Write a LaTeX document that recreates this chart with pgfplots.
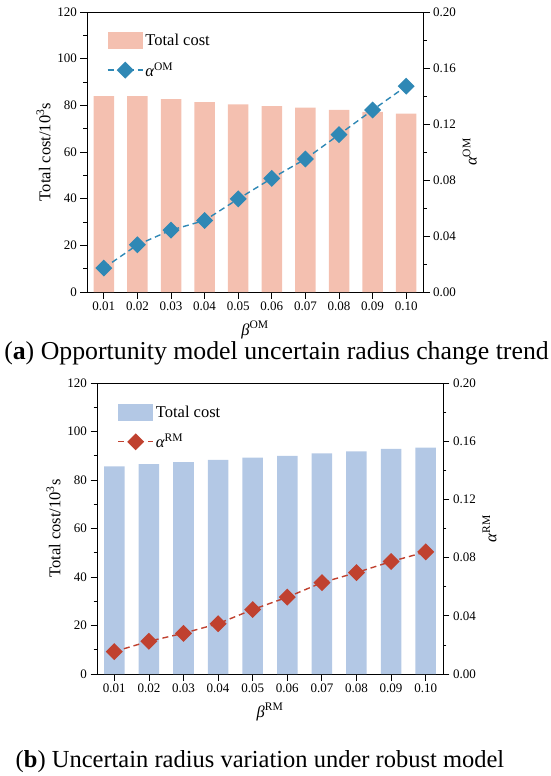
\documentclass[border=0pt]{standalone}
\usepackage{pgfplots}
\pgfplotsset{compat=1.18}
\usepackage{fontspec}
\setmainfont{Liberation Serif}
\definecolor{salmon}{HTML}{F4C0B0}
\definecolor{lblue}{HTML}{B3C8E5}
\definecolor{mblue}{HTML}{2F88B5}
\definecolor{mred}{HTML}{C0412F}
\pgfplotsset{
  common/.style={
    scale only axis,
    anchor=south west,
    xmin=-0.5, xmax=9.5,
    tick align=outside,
    major tick length=6.5pt,
    minor tick length=3.5pt,
    every tick/.style={black, line width=0.8pt},
    axis line style={line width=0.9pt},
    /pgf/number format/assume math mode=true,
    tick label style={font=\fontsize{13}{15}\selectfont},
    label style={font=\fontsize{16.5}{19}\selectfont},
    xlabel style={yshift=-3.5pt},
  },
  barleg/.style={legend image code/.code={\fill[##1] (0pt,-8.5pt) rectangle (35pt,8.5pt);}},
  lineleg/.style={legend image code/.code={\draw[##1, mark repeat=2, mark phase=2] plot coordinates {(0pt,0pt) (17.5pt,0pt) (35pt,0pt)};}},
}
\begin{document}
\begin{tikzpicture}
\useasboundingbox (0,0) rectangle (550pt,-776pt);
% ---------------- panel (a) ----------------
\begin{axis}[common,
  at={(87pt,-292pt)}, width=336pt, height=280pt,
  ymin=0, ymax=120, ytick={0,20,...,120}, minor y tick num=1,
  xtick={0,...,9}, xticklabels={0.01,0.02,0.03,0.04,0.05,0.06,0.07,0.08,0.09,0.10},
  xtick pos=bottom, ytick pos=left,
  ylabel={Total cost/10\textsuperscript{3}s},
  xlabel={\itshape β\upshape\textsuperscript{OM}},
]
\addplot[ybar, bar width=20.5pt, fill=salmon, draw=none] coordinates {
(0,84.0) (1,83.9) (2,82.7) (3,81.4) (4,80.4) (5,79.7) (6,79.0) (7,78.1) (8,77.2) (9,76.4)};
\end{axis}
\begin{axis}[common,
  at={(87pt,-292pt)}, width=336pt, height=280pt,
  axis x line=none, axis y line*=right,
  ymin=0, ymax=0.2, ytick={0,0.04,...,0.2}, minor y tick num=1,
  yticklabel style={/pgf/number format/fixed, /pgf/number format/fixed zerofill, /pgf/number format/precision=2},
  ylabel={\itshape α\upshape\textsuperscript{OM}},
  legend style={draw=none, fill=none, at={(0.05,0.935)}, anchor=north west,
    font=\fontsize{16.5}{19}\selectfont, row sep=11pt, legend cell align=left},
]
\addlegendimage{barleg, fill=salmon, draw=none}
\addlegendentry{Total cost}
\addplot[lineleg, mblue, line width=1.4pt, dash pattern=on 6pt off 4pt, mark=square*, mark size=5.3pt,
  mark options={solid, rotate=45, fill=mblue, draw=mblue}] coordinates {
(0,0.0171) (1,0.0337) (2,0.0442) (3,0.0511) (4,0.0665) (5,0.0812) (6,0.0950) (7,0.1124) (8,0.1300) (9,0.1470)};
\addlegendentry{\itshape α\upshape\textsuperscript{OM}}
\end{axis}
\node[anchor=base] at (276.5pt,-359pt) {\fontsize{25.8}{30}\selectfont (\textbf{a}) Opportunity model uncertain radius change trend};
% ---------------- panel (b) ----------------
\begin{axis}[common,
  at={(97pt,-674pt)}, width=346pt, height=291pt,
  ymin=0, ymax=120, ytick={0,20,...,120}, minor y tick num=1,
  xtick={0,...,9}, xticklabels={0.01,0.02,0.03,0.04,0.05,0.06,0.07,0.08,0.09,0.10},
  xtick pos=bottom, ytick pos=left,
  ylabel={Total cost/10\textsuperscript{3}s},
  xlabel={\itshape β\upshape\textsuperscript{RM}},
]
\addplot[ybar, bar width=20.5pt, fill=lblue, draw=none] coordinates {
(0,85.6) (1,86.6) (2,87.4) (3,88.3) (4,89.2) (5,90.0) (6,91.0) (7,91.8) (8,92.8) (9,93.4)};
\end{axis}
\begin{axis}[common,
  at={(97pt,-674pt)}, width=346pt, height=291pt,
  axis x line=none, axis y line*=right,
  ymin=0, ymax=0.2, ytick={0,0.04,...,0.2}, minor y tick num=1,
  yticklabel style={/pgf/number format/fixed, /pgf/number format/fixed zerofill, /pgf/number format/precision=2},
  ylabel={\itshape α\upshape\textsuperscript{RM}},
  legend style={draw=none, fill=none, at={(0.05,0.935)}, anchor=north west,
    font=\fontsize{16.5}{19}\selectfont, row sep=11pt, legend cell align=left},
]
\addlegendimage{barleg, fill=lblue, draw=none}
\addlegendentry{Total cost}
\addplot[lineleg, mred, line width=1.4pt, dash pattern=on 6pt off 4pt, mark=square*, mark size=5.3pt,
  mark options={solid, rotate=45, fill=mred, draw=mred}] coordinates {
(0,0.0154) (1,0.0225) (2,0.0280) (3,0.0346) (4,0.0443) (5,0.0528) (6,0.0628) (7,0.0697) (8,0.0773) (9,0.0839)};
\addlegendentry{\itshape α\upshape\textsuperscript{RM}}
\end{axis}
\node[anchor=base] at (260pt,-767pt) {\fontsize{24.5}{29}\selectfont (\textbf{b}) Uncertain radius variation under robust model};
\end{tikzpicture}
\end{document}
